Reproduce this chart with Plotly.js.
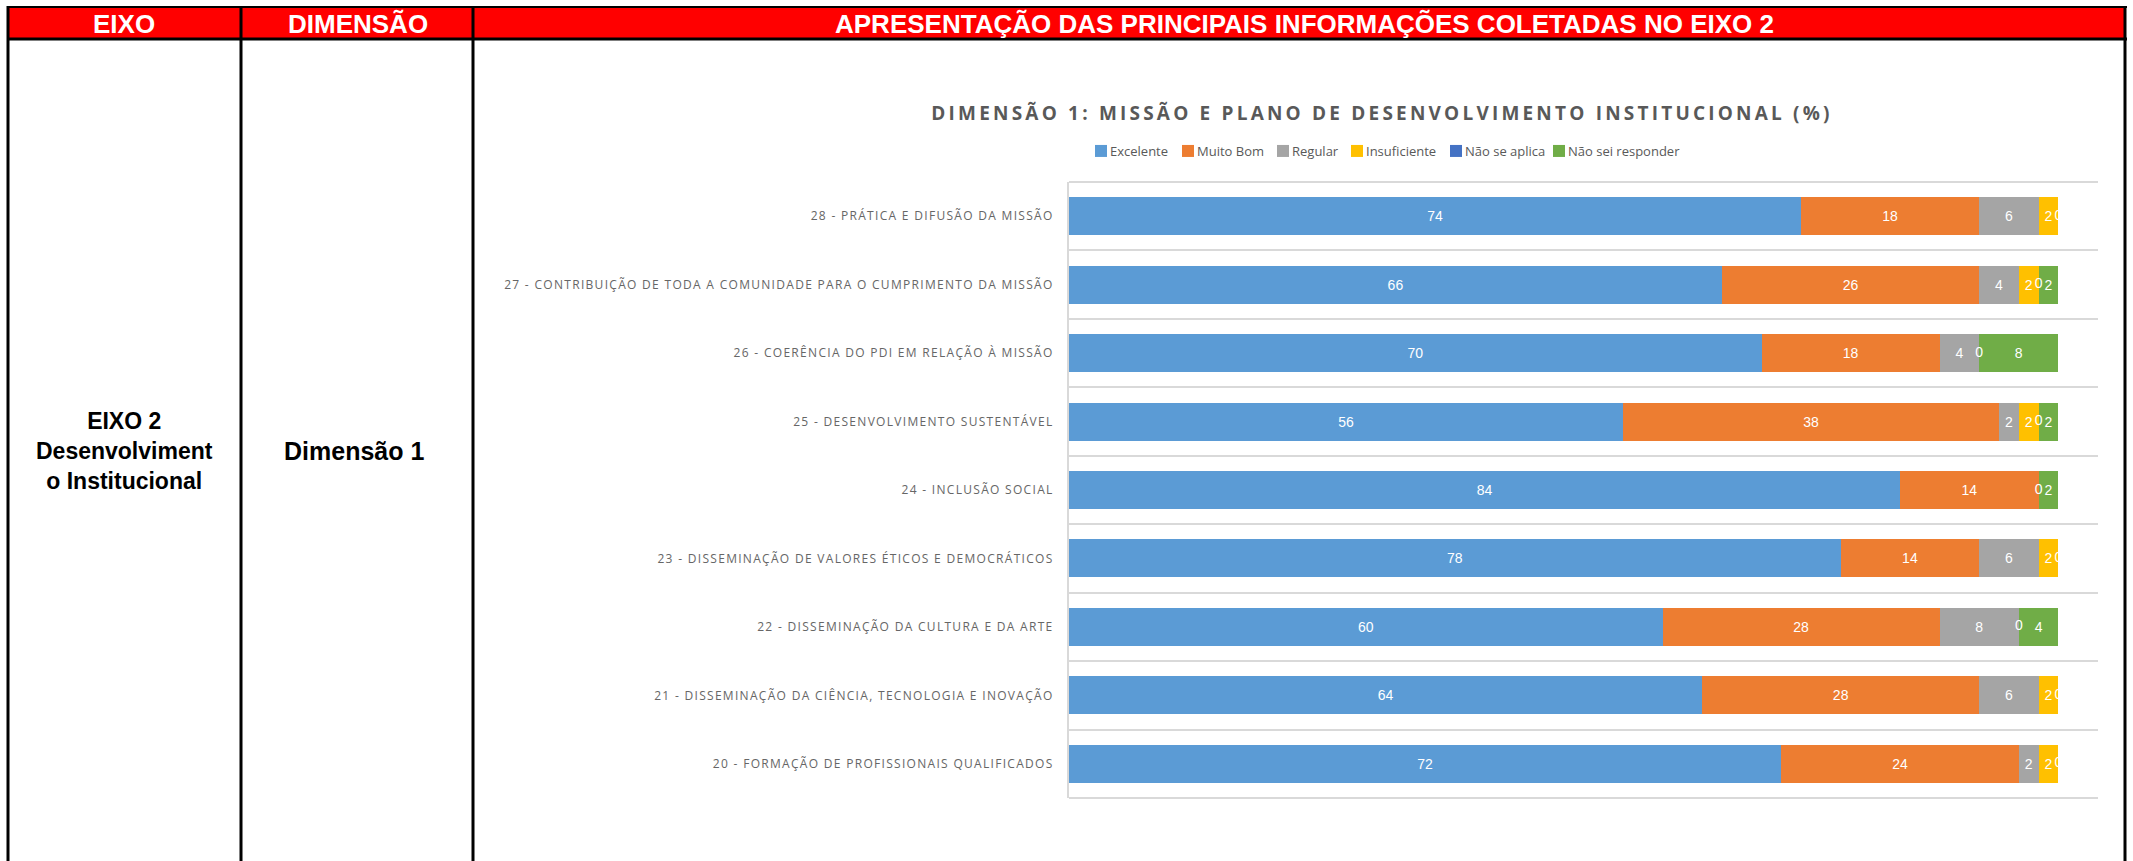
<!DOCTYPE html>
<html>
<head>
<meta charset="utf-8">
<script src="https://cdn.plot.ly/plotly-3.0.1.min.js"></script>
<style>
html,body{margin:0;padding:0;background:#fff;}
#chart{width:2133px;height:861px;}
#chart .gtitle{letter-spacing:3.2px;}
#chart .ytick text{letter-spacing:1.3px;}
#chart .legendpoints{transform:translateX(11px);}
</style>
</head>
<body>
<div id="chart"></div>
<script>
// ---- DATA ----
const categories = [
  '28 - PRÁTICA E DIFUSÃO DA MISSÃO',
  '27 - CONTRIBUIÇÃO DE TODA A COMUNIDADE PARA O CUMPRIMENTO DA MISSÃO',
  '26 - COERÊNCIA DO PDI EM RELAÇÃO À MISSÃO',
  '25 - DESENVOLVIMENTO SUSTENTÁVEL',
  '24 - INCLUSÃO SOCIAL',
  '23 - DISSEMINAÇÃO DE VALORES ÉTICOS E DEMOCRÁTICOS',
  '22 - DISSEMINAÇÃO DA CULTURA E DA ARTE',
  '21 - DISSEMINAÇÃO DA CIÊNCIA, TECNOLOGIA E INOVAÇÃO',
  '20 - FORMAÇÃO DE PROFISSIONAIS QUALIFICADOS'
];
const seriesNames = ['Excelente', 'Muito Bom', 'Regular', 'Insuficiente', 'Não se aplica', 'Não sei responder'];
const excelente      = [74, 66, 70, 56, 84, 78, 60, 64, 72];
const muitoBom       = [18, 26, 18, 38, 14, 14, 28, 28, 24];
const regular        = [6, 4, 4, 2, null, 6, 8, 6, 2];
const insuficiente   = [2, 2, null, 2, null, 2, null, 2, 2];
const naoSeAplica    = [0, 0, 0, 0, 0, 0, 0, 0, 0];
const naoSeiResponder= [null, 2, 8, 2, 2, null, 4, null, null];

const chartTitle = 'DIMENSÃO 1: MISSÃO E PLANO DE DESENVOLVIMENTO INSTITUCIONAL (%)';
const headerTexts = ['EIXO', 'DIMENSÃO', 'APRESENTAÇÃO DAS PRINCIPAIS INFORMAÇÕES COLETADAS NO EIXO 2'];
const eixoText = 'EIXO 2<br>Desenvolviment<br>o Institucional';
const dimensaoText = 'Dimensão 1';

// ---- STYLE ----
const colors = ['#5B9BD5', '#ED7D31', '#A5A5A5', '#FFC000', '#4472C4', '#70AD47'];
const allSeries = [excelente, muitoBom, regular, insuficiente, naoSeAplica, naoSeiResponder];
const legendIds = ['legend', 'legend2', 'legend3', 'legend4', 'legend5', 'legend6'];
const legendTextPx = [1110, 1197, 1292, 1366, 1465, 1568];

// plot area in pixels
const W = 2133, H = 861;
const PL = 1069, PR = 2098, PT = 182, PB = 798;
const xp = px => (px - PL) / (PR - PL);
const yp = py => (PB - py) / (PB - PT);

const labelFont = {family: 'Liberation Sans Narrow, Arial Narrow, Liberation Sans, sans-serif', size: 14, color: '#ffffff'};

const traces = allSeries.map((vals, i) => ({
  type: 'bar',
  orientation: 'h',
  name: seriesNames[i],
  legend: legendIds[i],
  y: categories,
  x: vals,
  text: vals.map(v => v === null ? '' : String(v)),
  textposition: 'inside',
  insidetextanchor: 'middle',
  textangle: 0,
  constraintext: 'none',
  cliponaxis: false,
  textfont: labelFont,
  marker: {color: colors[i], line: {width: 0}},
  hoverinfo: 'x+y+name'
}));

// labels for zero-valued segments (drawn at the segment's stacked position)
const zeroX = [], zeroY = [], zeroT = [];
categories.forEach((c, r) => {
  let cum = 0;
  allSeries.forEach(vals => {
    const v = vals[r];
    if (v === 0) { zeroX.push(cum); zeroY.push(c); zeroT.push('0'); }
    if (v !== null) cum += v;
  });
});
traces.push({
  type: 'scatter', mode: 'text', x: zeroX, y: zeroY, text: zeroT,
  textposition: 'middle center', textfont: labelFont,
  showlegend: false, hoverinfo: 'skip', cliponaxis: false
});

// table shapes
const shapes = [];
function rectPx(x0, y0, x1, y1, fill, lineW) {
  shapes.push({type: 'rect', xref: 'paper', yref: 'paper', layer: 'above',
    x0: xp(x0), x1: xp(x1), y0: yp(y1), y1: yp(y0),
    fillcolor: fill, line: {width: lineW || 0, color: '#000'}});
}
function linePx(x0, y0, x1, y1, w, color, layer) {
  shapes.push({type: 'line', xref: 'paper', yref: 'paper', layer: layer || 'above',
    x0: xp(x0), x1: xp(x1), y0: yp(y0), y1: yp(y1),
    line: {width: w, color: color || '#000'}});
}
rectPx(8, 7, 2125, 39, '#FF0000', 0);
linePx(7, 7, 2127, 7, 2);
linePx(7, 39, 2127, 39, 3);
[8, 241, 473, 2125].forEach(x => linePx(x, 6, x, 870, 3));
// outer category gridlines (top and bottom of the plot area)
shapes.push({type: 'line', xref: 'paper', yref: 'paper', layer: 'below', x0: 0, x1: 1, y0: 1, y1: 1, line: {width: 2, color: '#d9d9d9'}});
shapes.push({type: 'line', xref: 'paper', yref: 'paper', layer: 'below', x0: 0, x1: 1, y0: 0, y1: 0, line: {width: 2, color: '#d9d9d9'}});

const annotations = [];
function textPx(x, y, txt, size, color) {
  annotations.push({xref: 'paper', yref: 'paper', x: xp(x), y: yp(y),
    xanchor: 'center', yanchor: 'middle', showarrow: false, align: 'center',
    text: txt, font: {family: 'Liberation Sans, Arial, sans-serif', size: size, color: color}});
}
textPx(124, 24, '<b>' + headerTexts[0] + '</b>', 26, '#ffffff');
textPx(358, 24, '<b>' + headerTexts[1] + '</b>', 26, '#ffffff');
textPx(1304, 24, '<b>' + headerTexts[2] + '</b>', 26, '#ffffff');
textPx(124, 451, '<b>' + eixoText + '</b>', 23, '#000000');
textPx(354, 451, '<b>' + dimensaoText + '</b>', 25, '#000000');

const layout = {
  width: W, height: H,
  margin: {l: PL, r: W - PR, t: PT, b: H - PB, pad: 0},
  paper_bgcolor: '#ffffff',
  plot_bgcolor: '#ffffff',
  barmode: 'stack',
  bargap: 0.444,
  showlegend: true,
  title: {
    text: '<b>' + chartTitle + '</b>',
    xref: 'paper', x: xp(1382), xanchor: 'center',
    yref: 'container', y: 1 - 113 / H, yanchor: 'middle',
    font: {family: 'Open Sans, sans-serif', size: 19, color: '#595959'}
  },
  xaxis: {
    range: [0, 104], showgrid: false, zeroline: false, showticklabels: false,
    showline: false, ticks: '', fixedrange: true
  },
  yaxis: {
    type: 'category', autorange: 'reversed', automargin: false,
    tickson: 'boundaries', showgrid: true, gridcolor: '#d9d9d9', gridwidth: 2,
    showline: true, linecolor: '#d9d9d9', linewidth: 2,
    ticks: '', ticklabelstandoff: 11,
    tickfont: {family: 'Open Sans, sans-serif', size: 12, color: '#666666'},
    zeroline: false, fixedrange: true
  },
  shapes: shapes,
  annotations: annotations
};
legendIds.forEach((id, i) => {
  layout[id] = {
    orientation: 'h', x: xp(legendTextPx[i] - 40), xanchor: 'left', y: yp(151), yanchor: 'middle',
    font: {family: 'Liberation Sans Narrow, Open Sans, sans-serif', size: 13, color: '#595959'},
    itemwidth: 30, bgcolor: 'rgba(0,0,0,0)', borderwidth: 0
  };
});

Plotly.newPlot('chart', traces, layout, {displayModeBar: false, responsive: false});
</script>
</body>
</html>
